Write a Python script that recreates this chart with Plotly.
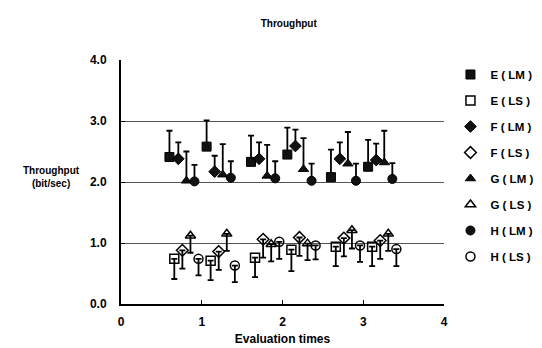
import plotly.graph_objects as go

# ---- data ----
x_ticks = [0, 1, 2, 3, 4]
y_ticks = [0.0, 1.0, 2.0, 3.0, 4.0]
y_tick_labels = ["0.0", "1.0", "2.0", "3.0", "4.0"]

E_LM_x = [0.60, 1.06, 1.61, 2.06, 2.60, 3.06]
E_LM_y = [2.41, 2.58, 2.33, 2.45, 2.08, 2.25]
E_LM_err = [0.43, 0.43, 0.43, 0.44, 0.45, 0.44]

F_LM_x = [0.71, 1.16, 1.71, 2.16, 2.71, 3.16]
F_LM_y = [2.38, 2.17, 2.38, 2.59, 2.38, 2.36]
F_LM_err = [0.27, 0.26, 0.27, 0.27, 0.27, 0.27]

G_LM_x = [0.81, 1.26, 1.81, 2.26, 2.81, 3.26]
G_LM_y = [2.02, 2.12, 2.10, 2.21, 2.30, 2.32]
G_LM_err = [0.48, 0.50, 0.51, 0.51, 0.52, 0.52]

H_LM_x = [0.91, 1.36, 1.91, 2.36, 2.91, 3.36]
H_LM_y = [2.01, 2.07, 2.06, 2.02, 2.02, 2.05]
H_LM_err = [0.27, 0.27, 0.28, 0.28, 0.28, 0.26]

E_LS_x = [0.66, 1.11, 1.66, 2.11, 2.66, 3.11]
E_LS_y = [0.74, 0.71, 0.76, 0.89, 0.94, 0.94]
E_LS_err = [0.33, 0.32, 0.32, 0.35, 0.32, 0.32]

F_LS_x = [0.76, 1.21, 1.76, 2.21, 2.76, 3.21]
F_LS_y = [0.88, 0.86, 1.06, 1.09, 1.08, 1.04]
F_LS_err = [0.30, 0.30, 0.30, 0.30, 0.30, 0.30]

G_LS_x = [0.86, 1.31, 1.86, 2.31, 2.86, 3.31]
G_LS_y = [1.12, 1.15, 0.98, 0.99, 1.21, 1.15]
G_LS_err = [0.28, 0.28, 0.28, 0.27, 0.30, 0.28]

H_LS_x = [0.96, 1.41, 1.96, 2.41, 2.96, 3.41]
H_LS_y = [0.74, 0.63, 1.02, 0.96, 0.96, 0.90]
H_LS_err = [0.27, 0.27, 0.28, 0.23, 0.27, 0.28]

series = [
    ("E ( LM )", E_LM_x, E_LM_y, E_LM_err, "LM", "square"),
    ("E ( LS )", E_LS_x, E_LS_y, E_LS_err, "LS", "square-open"),
    ("F ( LM )", F_LM_x, F_LM_y, F_LM_err, "LM", "diamond"),
    ("F ( LS )", F_LS_x, F_LS_y, F_LS_err, "LS", "diamond-open"),
    ("G ( LM )", G_LM_x, G_LM_y, G_LM_err, "LM", "triangle-up"),
    ("G ( LS )", G_LS_x, G_LS_y, G_LS_err, "LS", "triangle-up-open"),
    ("H ( LM )", H_LM_x, H_LM_y, H_LM_err, "LM", "circle"),
    ("H ( LS )", H_LS_x, H_LS_y, H_LS_err, "LS", "circle-open"),
]

FONT = "Liberation Sans, Arial, sans-serif"

fig = go.Figure()
for name, xs, ys, err, kind, sym in series:
    zeros = [0] * len(err)
    if kind == "LM":
        ey = dict(type="data", symmetric=False, array=err, arrayminus=zeros,
                  color="black", thickness=1.8, width=3)
        marker = dict(symbol=sym, size=9, color="#111111",
                      line=dict(color="black", width=1))
    else:
        ey = dict(type="data", symmetric=False, array=zeros, arrayminus=err,
                  color="black", thickness=1.8, width=3)
        marker = dict(symbol=sym, size=9, color="black",
                      line=dict(color="black", width=1.5))
    fig.add_trace(go.Scatter(
        x=xs, y=ys, mode="markers", name=name, legendgroup=name,
        marker=marker, error_y=ey,
    ))

fig.update_layout(
    width=542, height=348,
    margin=dict(l=113, r=92, t=52, b=48),
    paper_bgcolor="white", plot_bgcolor="white",
    font=dict(family=FONT, color="black"),
    showlegend=True,
    legend=dict(
        x=1.02, y=1.0, xanchor="left", yanchor="top",
        font=dict(family=FONT, size=11.5, weight="bold"),
        traceorder="grouped", tracegroupgap=7,
        bgcolor="rgba(0,0,0,0)", itemwidth=30,
    ),
    title=dict(text="Throughput", x=0.518, xanchor="center", y=0.955, yanchor="middle",
               font=dict(family=FONT, size=10, weight="bold")),
    xaxis=dict(
        range=[0, 4], tickmode="array", tickvals=x_ticks,
        ticks="inside", ticklen=4, tickwidth=1, tickcolor="black",
        showline=True, linecolor="black", linewidth=2,
        showgrid=False, zeroline=False,
        tickfont=dict(family=FONT, size=12, weight="bold"),
        ticklabelstandoff=6,
        title=dict(text="Evaluation times", standoff=6,
                   font=dict(family=FONT, size=12, weight="bold")),
    ),
    yaxis=dict(
        range=[0, 4], tickmode="array", tickvals=y_ticks, ticktext=y_tick_labels,
        ticks="inside", ticklen=4, tickwidth=1, tickcolor="black",
        showline=True, linecolor="black", linewidth=2,
        showgrid=False, zeroline=False,
        tickfont=dict(family=FONT, size=12, weight="bold"),
        ticklabelstandoff=10,
        minor=dict(tickmode="array", tickvals=[1, 2, 3], showgrid=True,
                   gridcolor="#555555", gridwidth=1, ticks=""),
    ),
)

fig.add_annotation(
    text="Throughput<br>(bit/sec)", xref="paper", yref="paper",
    x=-0.215, y=0.52, xanchor="center", yanchor="middle", showarrow=False,
    font=dict(family=FONT, size=10, weight="bold"), align="center",
)

fig.write_html("out.html")
